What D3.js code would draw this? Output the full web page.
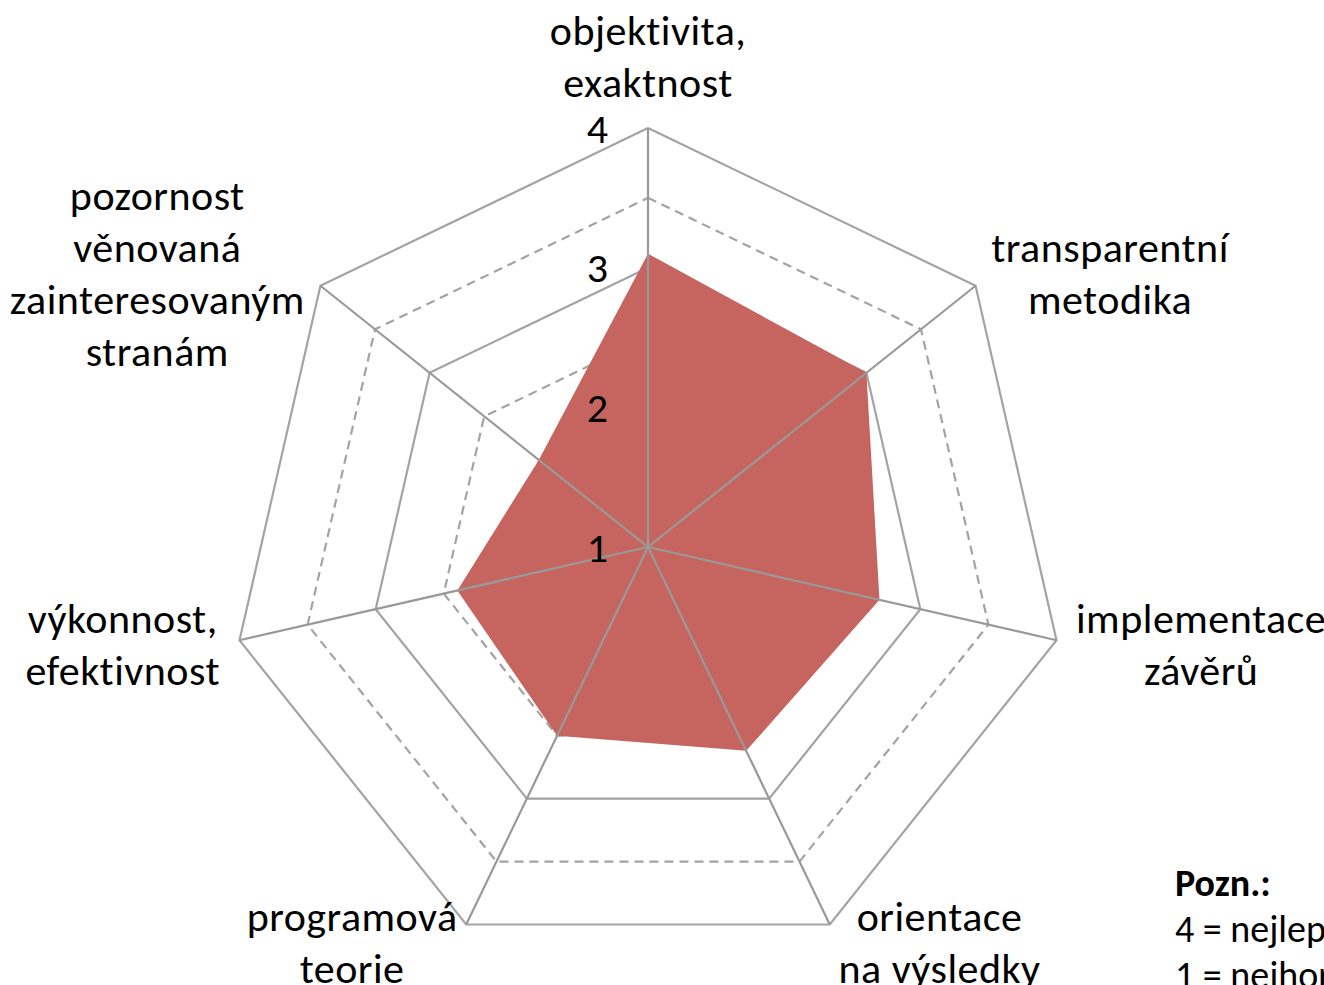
<!DOCTYPE html>
<html>
<head>
<meta charset="utf-8">
<script src="https://cdn.jsdelivr.net/npm/d3@7"></script>
<style>
  body { margin: 0; background: #fff; overflow: hidden; }
  text { font-family: Carlito, Lato, "Open Sans", sans-serif; fill: #000; font-variant-ligatures: none; }
</style>
</head>
<body>
<script>
const categories = [
	['objektivita,', 'exaktnost'],
	['transparentní', 'metodika'],
	['implementace', 'závěrů'],
	['orientace', 'na výsledky'],
	['programová', 'teorie'],
	['výkonnost,', 'efektivnost'],
	['pozornost', 'věnovaná', 'zainteresovaným', 'stranám']
]
const values = [3.1, 3.0, 2.7, 2.62, 2.5, 2.4, 2.0]
const majorTicks = [1, 2, 3, 4]
const minorTicks = [1.5, 2.5, 3.5]
const noteTitle = 'Pozn.:'
const noteLines = ['4 = nejlepší', '1 = nejhorší']

const width = 1324
const height = 985
const cx = 648
const cy = 547
const radius = 419
const fontSize = 42

const r = d3.scaleLinear().domain([1, 4]).range([0, radius])
const angle = d3.scaleLinear().domain([0, categories.length]).range([0, 2 * Math.PI])

const pt = (i, v) => [cx + Math.sin(angle(i)) * r(v), cy - Math.cos(angle(i)) * r(v)]

const svg = d3.select('body').append('svg')
	.attr('width', width)
	.attr('height', height)

const line = d3.line()

// gridlines (heptagons)
const ring = v => line(categories.map((c, i) => pt(i, v)).concat([pt(0, v)]))

svg.append('g').selectAll('path')
		.data(majorTicks.filter(v => v > 1).concat(minorTicks))
	.enter().append('path')
		.attr('d', ring)
		.attr('fill', 'none')
		.attr('stroke', '#a3a3a3')
		.attr('stroke-width', 2.2)
		.attr('stroke-dasharray', d => Number.isInteger(d) ? null : '9,6')

// series area
svg.append('path')
	.attr('d', line(values.map((v, i) => pt(i, v))) + 'Z')
	.attr('fill', '#c6655f')

// spokes
svg.append('g').selectAll('line')
		.data(categories)
	.enter().append('line')
		.attr('x1', cx)
		.attr('y1', cy)
		.attr('x2', (d, i) => pt(i, 4)[0])
		.attr('y2', (d, i) => pt(i, 4)[1])
		.attr('stroke', '#999')
		.attr('stroke-width', 2.2)

// value axis labels
svg.append('g').selectAll('text')
		.data(majorTicks)
	.enter().append('text')
		.attr('x', cx - 40)
		.attr('y', d => cy - r(d))
		.attr('dy', '0.35em')
		.attr('text-anchor', 'end')
		.style('font-size', fontSize + 'px')
		.text(d => d)

// category labels
const lineH = 52
const pad = 20
categories.forEach((lines, i) => {
	const a = angle(i)
	const s = Math.sin(a), c = Math.cos(a)
	const px = cx + s * (radius + pad)
	const py = cy - c * (radius + pad)
	const g = svg.append('g')
	const texts = g.selectAll('text')
			.data(lines)
		.enter().append('text')
			.attr('text-anchor', 'middle')
			.style('font-size', fontSize + 'px')
			.style('letter-spacing', '0.5px')
			.text(d => d)
	const w = d3.max(texts.nodes(), n => n.getComputedTextLength())
	let bx = px
	if (s > 0.1) bx = px + w / 2
	else if (s < -0.1) bx = px - w / 2
	const blockH = lines.length * lineH
	const top = c > 0.95 ? py - blockH : py - blockH / 2
	texts
		.attr('x', bx)
		.attr('y', (d, j) => top + lineH * j + lineH / 2)
		.attr('dy', '0.35em')
})

// note
const note = svg.append('g').attr('transform', 'translate(1175, 883)')
note.append('text')
	.attr('dy', '0.35em')
	.style('font-size', '38px')
	.style('font-weight', 'bold')
	.text(noteTitle)
note.selectAll('.nl')
		.data(noteLines)
	.enter().append('text')
		.attr('class', 'nl')
		.attr('y', (d, i) => 46 * (i + 1))
		.attr('dy', '0.35em')
		.style('font-size', '38px')
		.text(d => d)
</script>
</body>
</html>
